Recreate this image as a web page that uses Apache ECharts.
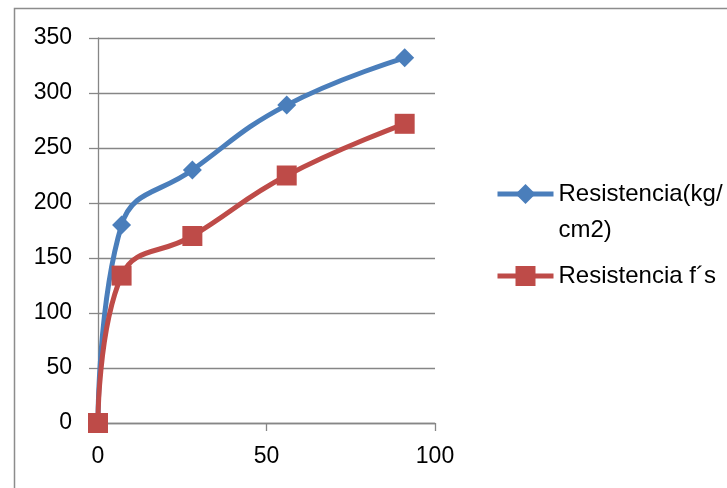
<!DOCTYPE html>
<html>
<head>
<meta charset="utf-8">
<script src="https://cdn.jsdelivr.net/npm/echarts@6/dist/echarts.min.js"></script>
<style>
  html, body { margin: 0; padding: 0; background: #ffffff; }
  #chart { width: 727px; height: 488px; }
</style>
</head>
<body>
<div id="chart"></div>
<script>
// Curing age (days) and compressive strength readings
const ages = [0, 7, 28, 56, 91];
const resistenciaKg = [0, 180, 230, 289, 332];
const resistenciaFs = [0, 134, 170, 225, 272];
const seriesNames = ['Resistencia(kg/cm2)', 'Resistencia f\u00b4s'];
const xTicks = [0, 50, 100];
const yTicks = [0, 50, 100, 150, 200, 250, 300, 350];

const FONT = '"Liberation Sans", Arial, sans-serif';
const BLUE = '#4A7EBB';
const RED = '#BE4B48';
const AXIS = '#868686';

const pairs = (ys) => ages.map((x, i) => [x, ys[i]]);

const legendBase = {
  orient: 'vertical',
  left: 495,
  padding: 0,
  itemWidth: 56,
  itemHeight: 25,
  lineStyle: { width: 5 },
  textStyle: { fontFamily: FONT, fontSize: 24, color: '#000', lineHeight: 36 }
};

const chart = echarts.init(document.getElementById('chart'), null, { renderer: 'canvas' });
chart.setOption({
  backgroundColor: '#ffffff',
  animation: false,
  graphic: [{
    type: 'rect',
    shape: { x: 14.5, y: 8.5, width: 800, height: 600 },
    style: { fill: 'none', stroke: '#8c8c8c', lineWidth: 1.5 },
    silent: true
  }],
  grid: { left: 98, right: 292, top: 38, bottom: 65 },
  legend: [
    // wrapped name: a blank first line keeps the icon level with the first text line
    Object.assign({}, legendBase, {
      top: 140,
      data: [seriesNames[0]],
      formatter: () => ' \nResistencia(kg/\ncm2)'
    }),
    Object.assign({}, legendBase, {
      top: 258,
      data: [seriesNames[1]]
    })
  ],
  xAxis: {
    type: 'value',
    min: xTicks[0],
    max: xTicks[xTicks.length - 1],
    interval: xTicks[1] - xTicks[0],
    axisLine: { show: true, lineStyle: { color: AXIS, width: 1.3 } },
    axisTick: { show: true, inside: false, length: 8, lineStyle: { color: AXIS, width: 1.3 } },
    splitLine: { show: false },
    axisLabel: { fontFamily: FONT, fontSize: 23, color: '#000', margin: 22 }
  },
  yAxis: {
    type: 'value',
    min: yTicks[0],
    max: yTicks[yTicks.length - 1],
    interval: yTicks[1] - yTicks[0],
    axisLine: { show: true, lineStyle: { color: AXIS, width: 1.3 } },
    axisTick: { show: true, inside: false, length: 9, lineStyle: { color: AXIS, width: 1.3 } },
    splitLine: { show: true, lineStyle: { color: AXIS, width: 1.3 } },
    axisLabel: { fontFamily: FONT, fontSize: 23, color: '#000', margin: 26 }
  },
  series: [
    {
      name: seriesNames[0],
      type: 'line',
      data: pairs(resistenciaKg),
      smooth: 0.45,
      symbol: 'diamond',
      symbolSize: 19,
      lineStyle: { color: BLUE, width: 5 },
      itemStyle: { color: BLUE },
      z: 2
    },
    {
      name: seriesNames[1],
      type: 'line',
      data: pairs(resistenciaFs),
      smooth: 0.45,
      symbol: 'rect',
      symbolSize: 20,
      lineStyle: { color: RED, width: 5 },
      itemStyle: { color: RED },
      z: 3
    }
  ]
});
</script>
</body>
</html>
